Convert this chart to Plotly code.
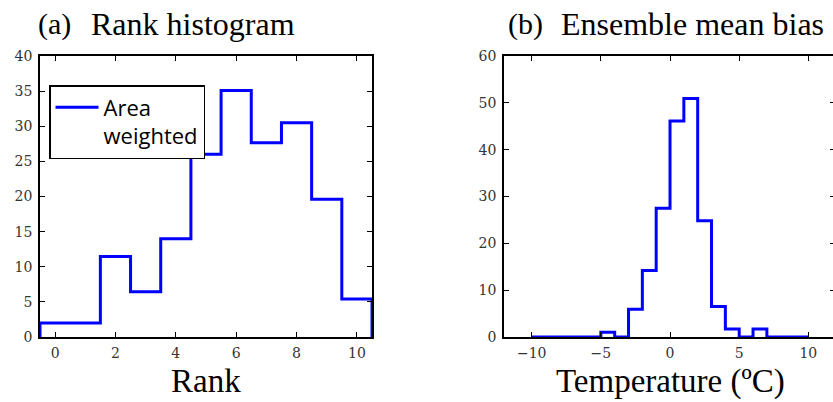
import plotly.graph_objects as go

# ---- data ----
ranks = [0, 1, 2, 3, 4, 5, 6, 7, 8, 9, 10]
rank_counts = [2.0, 2.0, 11.45, 6.45, 14.0, 26.0, 35.1, 27.65, 30.5, 19.6, 5.4]

bias_edges = list(range(-10, 11))  # bin edges in degC
bias_counts = [0, 0, 0, 0, 0, 1.0, 0, 5.9, 14.2, 27.5,
               46.1, 50.9, 24.8, 6.5, 1.7, 0, 1.7, 0, 0, 0]

legend_name = "Area<br>weighted"
title_a = "(a)"
title_a_text = "Rank histogram"
title_b = "(b)"
title_b_text = "Ensemble mean bias"
xlabel_a = "Rank"
xlabel_b = "Temperature (ºC)"

rank_ticks = [0, 2, 4, 6, 8, 10]
rank_yticks = [0, 5, 10, 15, 20, 25, 30, 35, 40]
bias_ticks = [-10, -5, 0, 5, 10]
bias_yticks = [0, 10, 20, 30, 40, 50, 60]


def step_outline(edges, counts):
    xs = [edges[0], edges[0]] + list(edges[1:])
    ys = [0] + list(counts) + [0]
    return xs, ys


rank_edges = [r - 0.5 for r in ranks] + [ranks[-1] + 0.5]
xa, ya = step_outline(rank_edges, rank_counts)
xb, yb = step_outline(bias_edges, bias_counts)

W, H = 833, 402
SERIF = "Liberation Serif"
BLUE = "#0000ff"

fig = go.Figure()
fig.add_trace(go.Scatter(x=xa, y=ya, mode="lines", line=dict(color=BLUE, width=3, shape="hv"),
                         name=legend_name, xaxis="x", yaxis="y", showlegend=True))
fig.add_trace(go.Scatter(x=xb, y=yb, mode="lines", line=dict(color=BLUE, width=3, shape="hv"),
                         name="bias", xaxis="x2", yaxis="y2", showlegend=False))
# invisible trace for right-side tick marks of panel (b)
fig.add_trace(go.Scatter(x=[0], y=[0], mode="markers", marker=dict(opacity=0), showlegend=False,
                         hoverinfo="skip", xaxis="x2", yaxis="y3"))

ybot = (H - 337) / H
ytop = (H - 56) / H


def ax(**kw):
    d = dict(showgrid=False, zeroline=False, ticks="inside", ticklen=5, tickwidth=1,
             tickcolor="black", linecolor="black", linewidth=1.5, showline=True,
             automargin=False, tickfont=dict(family="DejaVu Serif", size=14, color="#333"))
    d.update(kw)
    return d


fig.update_layout(
    template="none",
    width=W, height=H,
    margin=dict(l=0, r=0, t=0, b=0, pad=0),
    paper_bgcolor="white", plot_bgcolor="white",
    xaxis=ax(domain=[40 / W, 372 / W], range=[-0.5, 10.5], tickvals=rank_ticks,
             mirror="ticks", anchor="y", ticklabelstandoff=2),
    yaxis=ax(domain=[ybot, ytop], range=[0, 40], tickvals=rank_yticks,
             mirror="ticks", anchor="x", ticklabelstandoff=3),
    xaxis2=ax(domain=[504 / W, 1.0], range=[-12, 11.78], tickvals=bias_ticks,
              mirror="ticks", anchor="y2", ticklabelstandoff=2),
    yaxis2=ax(domain=[ybot, ytop], range=[0, 60], tickvals=bias_yticks,
              mirror=False, anchor="x2", ticklabelstandoff=3),
    yaxis3=dict(overlaying="y2", side="right", anchor="x2", range=[0, 60], tickvals=bias_yticks,
                showline=False, showgrid=False, zeroline=False, ticks="inside", ticklen=3,
                tickcolor="black", showticklabels=False, automargin=False),
    legend=dict(x=49 / W, y=(H - 85) / H, xanchor="left", yanchor="top",
                bordercolor="black", borderwidth=1.5, bgcolor="white",
                font=dict(family="Open Sans", size=22, color="black"), valign="top",
                itemwidth=43, tracegroupgap=0),
    showlegend=True,
)

ann = []


def text(x, y, s, size, xanchor="left"):
    ann.append(dict(x=x / W, y=(H - y) / H, xref="paper", yref="paper", text=s, showarrow=False,
                    xanchor=xanchor, yanchor="middle",
                    font=dict(family=SERIF, size=size, color="black")))


text(36, 24, title_a, 30)
text(89, 24, title_a_text, 32)
text(506, 24, title_b, 30)
text(559, 24, title_b_text, 32)
text(206, 381, xlabel_a, 33, "center")
text(670, 381, xlabel_b, 33, "center")
fig.update_layout(annotations=ann)

fig.write_html("out.html")
